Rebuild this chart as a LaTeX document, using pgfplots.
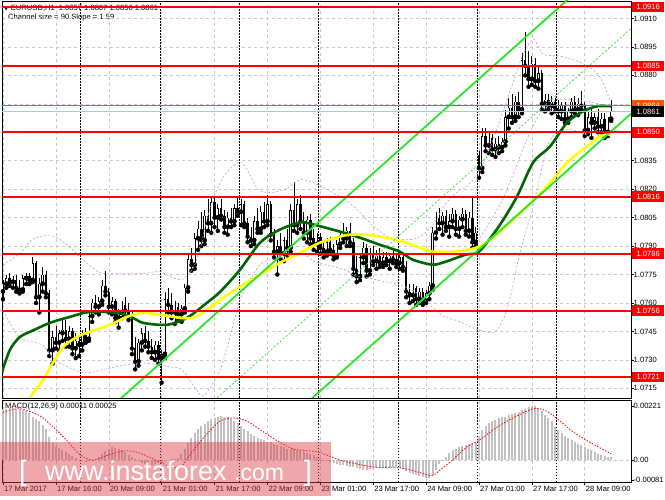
\documentclass[border=0pt]{standalone}
\usepackage{pgfplots}
\pgfplotsset{compat=1.18}
\usepackage{pgfplotstable}
\usepackage{fontspec}
\setmainfont{Liberation Sans}
\newfontfamily\dejavu{DejaVu Sans}
\newcommand{\lbl}{\fontsize{7.6}{9}\selectfont}
\definecolor{gridgray}{RGB}{200,200,200}
\definecolor{mtgreen}{RGB}{0,100,0}
\definecolor{mtyellow}{RGB}{255,255,0}
\definecolor{mtlime}{RGB}{40,230,40}
\definecolor{mtviolet}{RGB}{200,140,230}
\definecolor{mtorange}{RGB}{255,80,0}
\definecolor{macdgray}{RGB}{192,192,192}
\definecolor{wmpink}{RGB}{220,60,70}

\pgfplotstableread{
i O H L C
0 1.0766 1.0772 1.0762 1.0770
1 1.0770 1.0775 1.0768 1.0773
2 1.0773 1.0776 1.0769 1.0771
3 1.0771 1.0774 1.0768 1.0772
4 1.0772 1.0775 1.0766 1.0768
5 1.0768 1.0772 1.0765 1.0767
6 1.0767 1.0775 1.0766 1.0773
7 1.0773 1.0776 1.0770 1.0774
8 1.0774 1.0776 1.0770 1.0772
9 1.0772 1.0784 1.0771 1.0781
10 1.0781 1.0782 1.0760 1.0763
11 1.0763 1.0773 1.0755 1.0770
12 1.0770 1.0779 1.0766 1.0775
13 1.0775 1.0777 1.0763 1.0765
14 1.0765 1.0767 1.0732 1.0735
15 1.0735 1.0745 1.0728 1.0742
16 1.0742 1.0748 1.0736 1.0739
17 1.0739 1.0746 1.0735 1.0744
18 1.0744 1.0752 1.0740 1.0746
19 1.0746 1.0751 1.0737 1.0741
20 1.0741 1.0748 1.0737 1.0745
21 1.0745 1.0747 1.0733 1.0736
22 1.0736 1.0744 1.0731 1.0740
23 1.0740 1.0742 1.0732 1.0738
24 1.0738 1.0746 1.0735 1.0743
25 1.0743 1.0747 1.0739 1.0741
26 1.0741 1.0756 1.0740 1.0753
27 1.0753 1.0762 1.0750 1.0760
28 1.0760 1.0764 1.0755 1.0758
29 1.0758 1.0763 1.0754 1.0761
30 1.0761 1.0772 1.0759 1.0769
31 1.0769 1.0777 1.0764 1.0766
32 1.0766 1.0768 1.0755 1.0758
33 1.0758 1.0763 1.0754 1.0761
34 1.0761 1.0762 1.0750 1.0752
35 1.0752 1.0757 1.0747 1.0755
36 1.0755 1.0761 1.0752 1.0759
37 1.0759 1.0763 1.0753 1.0756
38 1.0756 1.0760 1.0751 1.0753
39 1.0753 1.0755 1.0733 1.0736
40 1.0736 1.0742 1.0725 1.0729
41 1.0729 1.0741 1.0727 1.0739
42 1.0739 1.0747 1.0735 1.0744
43 1.0744 1.0748 1.0737 1.0740
44 1.0740 1.0745 1.0734 1.0737
45 1.0737 1.0741 1.0731 1.0734
46 1.0734 1.0740 1.0730 1.0738
47 1.0738 1.0740 1.0728 1.0731
48 1.0731 1.0735 1.0718 1.0733
49 1.0733 1.0766 1.0731 1.0762
50 1.0762 1.0768 1.0755 1.0759
51 1.0759 1.0765 1.0752 1.0755
52 1.0755 1.0761 1.0749 1.0758
53 1.0758 1.0760 1.0751 1.0754
54 1.0754 1.0759 1.0750 1.0757
55 1.0757 1.0770 1.0755 1.0768
56 1.0768 1.0786 1.0766 1.0783
57 1.0783 1.0789 1.0777 1.0780
58 1.0780 1.0797 1.0778 1.0794
59 1.0794 1.0803 1.0788 1.0799
60 1.0799 1.0808 1.0790 1.0793
61 1.0793 1.0809 1.0791 1.0806
62 1.0806 1.0815 1.0798 1.0802
63 1.0802 1.0816 1.0797 1.0813
64 1.0813 1.0816 1.0800 1.0805
65 1.0805 1.0812 1.0798 1.0810
66 1.0810 1.0815 1.0804 1.0806
67 1.0806 1.0809 1.0797 1.0800
68 1.0800 1.0808 1.0796 1.0805
69 1.0805 1.0810 1.0800 1.0803
70 1.0803 1.0812 1.0801 1.0810
71 1.0810 1.0816 1.0806 1.0808
72 1.0808 1.0815 1.0801 1.0812
73 1.0812 1.0814 1.0800 1.0802
74 1.0802 1.0805 1.0792 1.0795
75 1.0795 1.0800 1.0790 1.0793
76 1.0793 1.0806 1.0791 1.0803
77 1.0803 1.0810 1.0797 1.0799
78 1.0799 1.0811 1.0797 1.0808
79 1.0808 1.0813 1.0800 1.0803
80 1.0803 1.0817 1.0801 1.0812
81 1.0812 1.0814 1.0793 1.0796
82 1.0796 1.0799 1.0784 1.0787
83 1.0787 1.0793 1.0775 1.0790
84 1.0790 1.0797 1.0783 1.0786
85 1.0786 1.0795 1.0782 1.0793
86 1.0793 1.0799 1.0785 1.0789
87 1.0789 1.0812 1.0787 1.0809
88 1.0809 1.0824 1.0798 1.0801
89 1.0801 1.0815 1.0797 1.0812
90 1.0812 1.0817 1.0799 1.0803
91 1.0803 1.0808 1.0794 1.0797
92 1.0797 1.0806 1.0792 1.0804
93 1.0804 1.0807 1.0791 1.0794
94 1.0794 1.0799 1.0788 1.0791
95 1.0791 1.0797 1.0787 1.0795
96 1.0795 1.0797 1.0786 1.0789
97 1.0789 1.0793 1.0784 1.0787
98 1.0787 1.0794 1.0785 1.0792
99 1.0792 1.0795 1.0786 1.0788
100 1.0788 1.0791 1.0783 1.0785
101 1.0785 1.0793 1.0784 1.0791
102 1.0791 1.0798 1.0789 1.0796
103 1.0796 1.0802 1.0792 1.0794
104 1.0794 1.0800 1.0790 1.0798
105 1.0798 1.0802 1.0790 1.0792
106 1.0792 1.0794 1.0775 1.0778
107 1.0778 1.0785 1.0771 1.0774
108 1.0774 1.0786 1.0772 1.0784
109 1.0784 1.0792 1.0781 1.0789
110 1.0789 1.0791 1.0774 1.0777
111 1.0777 1.0789 1.0775 1.0786
112 1.0786 1.0790 1.0780 1.0782
113 1.0782 1.0788 1.0778 1.0785
114 1.0785 1.0789 1.0779 1.0781
115 1.0781 1.0787 1.0779 1.0784
116 1.0784 1.0787 1.0780 1.0782
117 1.0782 1.0786 1.0778 1.0785
118 1.0785 1.0788 1.0781 1.0783
119 1.0783 1.0786 1.0779 1.0781
120 1.0781 1.0786 1.0778 1.0784
121 1.0784 1.0786 1.0777 1.0779
122 1.0779 1.0782 1.0763 1.0766
123 1.0766 1.0770 1.0760 1.0764
124 1.0764 1.0770 1.0761 1.0768
125 1.0768 1.0769 1.0759 1.0762
126 1.0762 1.0768 1.0760 1.0766
127 1.0766 1.0768 1.0759 1.0761
128 1.0761 1.0767 1.0760 1.0765
129 1.0765 1.0771 1.0762 1.0769
130 1.0769 1.0800 1.0767 1.0797
131 1.0797 1.0808 1.0794 1.0805
132 1.0805 1.0810 1.0799 1.0802
133 1.0802 1.0808 1.0796 1.0806
134 1.0806 1.0809 1.0798 1.0800
135 1.0800 1.0807 1.0795 1.0803
136 1.0803 1.0810 1.0800 1.0807
137 1.0807 1.0809 1.0796 1.0799
138 1.0799 1.0806 1.0795 1.0804
139 1.0804 1.0810 1.0800 1.0807
140 1.0807 1.0809 1.0796 1.0798
141 1.0798 1.0808 1.0795 1.0805
142 1.0805 1.0816 1.0789 1.0792
143 1.0792 1.0800 1.0790 1.0797
144 1.0838 1.0840 1.0826 1.0831
145 1.0831 1.0852 1.0829 1.0848
146 1.0848 1.0852 1.0840 1.0843
147 1.0843 1.0850 1.0839 1.0847
148 1.0847 1.0849 1.0838 1.0841
149 1.0841 1.0847 1.0837 1.0844
150 1.0844 1.0848 1.0839 1.0842
151 1.0842 1.0847 1.0840 1.0845
152 1.0845 1.0862 1.0843 1.0858
153 1.0858 1.0868 1.0852 1.0863
154 1.0863 1.0870 1.0855 1.0858
155 1.0858 1.0869 1.0856 1.0866
156 1.0866 1.0871 1.0858 1.0862
157 1.0862 1.0892 1.0860 1.0888
158 1.0888 1.0903 1.0880 1.0885
159 1.0885 1.0893 1.0874 1.0878
160 1.0878 1.0890 1.0875 1.0886
161 1.0886 1.0889 1.0874 1.0877
162 1.0877 1.0885 1.0873 1.0881
163 1.0881 1.0883 1.0862 1.0865
164 1.0865 1.0870 1.0861 1.0867
165 1.0867 1.0870 1.0862 1.0864
166 1.0864 1.0869 1.0860 1.0866
167 1.0866 1.0868 1.0861 1.0863
168 1.0863 1.0867 1.0858 1.0861
169 1.0861 1.0866 1.0857 1.0864
170 1.0864 1.0866 1.0855 1.0857
171 1.0857 1.0863 1.0855 1.0861
172 1.0861 1.0868 1.0858 1.0866
173 1.0866 1.0869 1.0860 1.0862
174 1.0862 1.0868 1.0859 1.0865
175 1.0865 1.0872 1.0862 1.0864
176 1.0864 1.0866 1.0848 1.0851
177 1.0851 1.0861 1.0849 1.0858
178 1.0858 1.0862 1.0847 1.0855
179 1.0855 1.0860 1.0852 1.0858
180 1.0858 1.0862 1.0850 1.0853
181 1.0853 1.0860 1.0850 1.0857
182 1.0857 1.0860 1.0847 1.0850
183 1.0850 1.0858 1.0848 1.0857
184 1.0857 1.0867 1.0856 1.0861
}\candles

\pgfplotstableread{
i v
0 0.00208
1 0.00210
2 0.00212
3 0.00211
4 0.00209
5 0.00207
6 0.00205
7 0.00200
8 0.00194
9 0.00178
10 0.00168
11 0.00158
12 0.00145
13 0.00125
14 0.00095
15 0.00068
16 0.00058
17 0.00048
18 0.00040
19 0.00032
20 0.00024
21 0.00015
22 0.00008
23 0.00002
24 -0.00004
25 -0.00008
26 -0.00006
27 -0.00002
28 0.00004
29 0.00012
30 0.00024
31 0.00036
32 0.00046
33 0.00052
34 0.00050
35 0.00046
36 0.00040
37 0.00032
38 0.00022
39 0.00012
40 0.00004
41 -0.00006
42 -0.00012
43 -0.00016
44 -0.00020
45 -0.00022
46 -0.00018
47 -0.00014
48 -0.00012
49 -0.00006
50 0.00000
51 0.00003
52 0.00006
53 0.00010
54 0.00025
55 0.00045
56 0.00068
57 0.00090
58 0.00110
59 0.00125
60 0.00138
61 0.00148
62 0.00158
63 0.00166
64 0.00172
65 0.00178
66 0.00180
67 0.00178
68 0.00174
69 0.00168
70 0.00160
71 0.00150
72 0.00140
73 0.00128
74 0.00118
75 0.00108
76 0.00100
77 0.00092
78 0.00086
79 0.00080
80 0.00074
81 0.00072
82 0.00066
83 0.00060
84 0.00058
85 0.00052
86 0.00046
87 0.00046
88 0.00044
89 0.00042
90 0.00038
91 0.00034
92 0.00030
93 0.00026
94 0.00020
95 0.00014
96 0.00008
97 0.00002
98 -0.00004
99 -0.00008
100 -0.00012
101 -0.00016
102 -0.00020
103 -0.00022
104 -0.00025
105 -0.00028
106 -0.00030
107 -0.00034
108 -0.00038
109 -0.00040
110 -0.00040
111 -0.00038
112 -0.00036
113 -0.00034
114 -0.00033
115 -0.00032
116 -0.00032
117 -0.00031
118 -0.00030
119 -0.00030
120 -0.00032
121 -0.00036
122 -0.00044
123 -0.00052
124 -0.00058
125 -0.00062
126 -0.00066
127 -0.00070
128 -0.00072
129 -0.00073
130 -0.00060
131 -0.00040
132 -0.00018
133 0.00002
134 0.00012
135 0.00030
136 0.00040
137 0.00046
138 0.00052
139 0.00056
140 0.00060
141 0.00064
142 0.00068
143 0.00070
144 0.00098
145 0.00122
146 0.00140
147 0.00150
148 0.00158
149 0.00164
150 0.00170
151 0.00174
152 0.00178
153 0.00186
154 0.00190
155 0.00194
156 0.00198
157 0.00204
158 0.00210
159 0.00218
160 0.00221
161 0.00219
162 0.00212
163 0.00200
164 0.00184
165 0.00170
166 0.00160
167 0.00135
168 0.00122
169 0.00110
170 0.00098
171 0.00090
172 0.00082
173 0.00074
174 0.00066
175 0.00060
176 0.00052
177 0.00046
178 0.00040
179 0.00032
180 0.00026
181 0.00020
182 0.00016
183 0.00013
184 0.00011
}\macd

\begin{document}
\begin{tikzpicture}[x=1pt,y=1pt]
\fill[white] (0,0) rectangle (665,499);
\path[use as bounding box] (0,0) rectangle (665,499);

% header
\node[anchor=west, inner sep=0pt, font=\lbl] at (4,491) {{\dejavu\fontsize{5.5}{6}\selectfont ▼}\hspace{2.5pt}EURUSD,H1\hspace{4pt}1.0857 1.0867 1.0856 1.0861};
\node[anchor=west, inner sep=0pt, font=\lbl] at (8,481) {Channel size = 90 Slope = 1.59};

\begin{axis}[
  name=main, at={(2pt,101pt)}, anchor=south west, scale only axis,
  width=629pt, height=397pt,
  xmin=-0.3, xmax=190, ymin=1.07099, ymax=1.09192,
  axis line style={black, line width=0.6pt},
  xtick={0,16,32,48,64,80,96,112,128,144,160,176}, xticklabels={},
  major x tick style={draw=none},
  xmajorgrids, ymajorgrids,
  major grid style={color=gridgray, line width=0.5pt, dash pattern=on 3pt off 3pt},
  extra x ticks={23.5,47.5,71.5,95.5,119.5,143.5,167.5},
  extra x tick labels={},
  extra x tick style={major grid style={black, line width=0.6pt, dash pattern=on 1.5pt off 1.5pt}, major tick length=0pt},
  ytick={1.0715,1.0730,1.0745,1.0760,1.0775,1.0790,1.0805,1.0820,1.0835,1.0850,1.0865,1.0880,1.0895,1.0910},
  yticklabels={1.0715,1.0730,1.0745,1.0760,1.0775,1.0790,1.0805,1.0820,1.0835,,,1.0880,1.0895,1.0910},
  ytick pos=right, yticklabel pos=right, tick align=outside,
  major tick length=3pt, scaled y ticks=false,
  major y tick style={black, line width=0.5pt},
  yticklabel style={anchor=west, xshift=-1.5pt, font=\lbl, inner sep=1pt},
  clip mode=individual,
]
% candles: wicks
\addplot[only marks, mark=none, error bars/.cd, y dir=plus, y explicit, error mark=none,
  error bar style={black, line width=0.7pt, solid}]
  table[x=i, y=L, y error expr=\thisrow{H}-\thisrow{L}] {\candles};
% bearish bodies
\addplot[only marks, mark=none, restrict expr to domain={\thisrow{O}-\thisrow{C}}{0:1},
  error bars/.cd, y dir=plus, y explicit, error mark=none,
  error bar style={black, line width=2.4pt, solid}]
  table[x=i, y=C, y error expr=\thisrow{O}-\thisrow{C}] {\candles};
% bullish bodies (outline)
\addplot[only marks, mark=none, restrict expr to domain={\thisrow{C}-\thisrow{O}}{0.00001:1},
  error bars/.cd, y dir=plus, y explicit, error mark=none,
  error bar style={black, line width=2.4pt, solid}]
  table[x=i, y=O, y error expr=\thisrow{C}-\thisrow{O}] {\candles};
% bullish bodies (fill)
\addplot[only marks, mark=none, restrict expr to domain={\thisrow{C}-\thisrow{O}}{0.00006:1},
  error bars/.cd, y dir=plus, y explicit, error mark=none,
  error bar style={white, line width=1.0pt, solid}]
  table[x=i, y expr=\thisrow{O}+0.000025, y error expr=\thisrow{C}-\thisrow{O}-0.00005] {\candles};

% Bollinger-like bands
\addplot[mtviolet, line width=0.6pt, dash pattern=on 2pt off 2pt, smooth] coordinates {
(0,1.07800) (2.7,1.07830) (5.7,1.07870) (8.8,1.07934) (12.7,1.07955) (16.3,1.07944) (20.3,1.07892) (24.8,1.07818) (29.3,1.07760) (33.9,1.07755) (38.4,1.07754) (43.0,1.07757) (47.5,1.07765) (51.1,1.07735) (54.2,1.07725) (57.2,1.07775) (59.6,1.07881) (61.7,1.08040) (64.1,1.08172) (67.2,1.08277) (70.2,1.08330) (72.3,1.08341) (74.7,1.08277) (77.2,1.08198) (80.8,1.08182) (85.3,1.08198) (89.9,1.08250) (94.4,1.08230) (98.9,1.08190) (103.5,1.08145) (106.5,1.08103) (109.5,1.08050) (112.6,1.07997) (117.1,1.07944) (121.6,1.07934) (125.6,1.07944) (130.1,1.08012) (133.7,1.08119) (138.3,1.08198) (140.4,1.08214) (144.3,1.08304) (148.3,1.08462) (153.4,1.08716) (157.0,1.08896) (160.4,1.08991) (163.4,1.08912) (168.5,1.08901) (174.6,1.08869) (179.1,1.08822) (181.5,1.08764) (183.7,1.08663)};
\addplot[mtviolet, line width=0.6pt, dash pattern=on 2pt off 2pt, smooth] coordinates {
(0,1.07560) (5,1.07420) (11.8,1.07379) (15.7,1.07300) (19.7,1.07263) (24.8,1.07231) (32.4,1.07257) (41.5,1.07284) (50.5,1.07263) (54.2,1.07247) (58.1,1.07152) (60.5,1.07109) (63.2,1.07168) (65.7,1.07247) (68.7,1.07421) (71.7,1.07617) (74.7,1.07722) (77.8,1.07802) (80.8,1.07828) (85.3,1.07844) (89.9,1.07865) (94.4,1.07818) (98.9,1.07796) (103.5,1.07775) (106.5,1.07744) (110.4,1.07733) (115.6,1.07712) (120.1,1.07696) (124.7,1.07659) (129.2,1.07590) (133.1,1.07532) (138.3,1.07501) (143.7,1.07458) (148.9,1.07448) (151.9,1.07538) (154.0,1.07670) (156.4,1.07865) (159.5,1.08056) (162.5,1.08267) (164.6,1.08425) (167.6,1.08499) (171.6,1.08515) (178.5,1.08478) (182.8,1.08499)};
\addplot[mtviolet, line width=0.6pt, dash pattern=on 2pt off 2pt, smooth] coordinates {
(144.3,1.07944) (150.4,1.08119) (154.3,1.08277) (158.5,1.08462) (162.5,1.08600) (166.4,1.08658) (168.5,1.08674) (176.7,1.08663) (182.7,1.08637)};

% moving averages
\addplot[mtgreen, line width=2.6pt, smooth] coordinates {
(-0.3,1.07236) (2.1,1.07353) (5.1,1.07421) (8.2,1.07448) (14.2,1.07495) (20.3,1.07527) (26.3,1.07553) (34.5,1.07548) (39.3,1.07522) (42.4,1.07495) (49.6,1.07485) (55.7,1.07522) (61.7,1.07601) (65.7,1.07659) (71.7,1.07775) (77.8,1.07918) (83.8,1.07987) (89.9,1.08024) (92.9,1.08018) (102,1.07976) (108,1.07944) (114,1.07907) (120,1.07871) (124,1.07828) (130,1.07802) (134,1.07818) (140,1.07855) (144,1.07871) (150,1.08003) (155.5,1.08161) (160.4,1.08341) (165.5,1.08425) (170.7,1.08552) (175.5,1.08610) (179.7,1.08637) (184,1.08637)};
\addplot[mtyellow, line width=2.6pt, smooth] coordinates {
(6.5,1.07000) (8.2,1.07099) (12.1,1.07194) (15.1,1.07284) (18.2,1.07368) (22.4,1.07421) (26.3,1.07448) (32.4,1.07485) (37.5,1.07527) (42.4,1.07548) (47.5,1.07538) (53.6,1.07522) (57.5,1.07522) (61.7,1.07564) (65.7,1.07617) (71.7,1.07685) (77.8,1.07749) (83.8,1.07812) (89.9,1.07865) (95.9,1.07918) (102,1.07950) (105,1.07960) (110,1.07960) (116,1.07944) (122,1.07918) (126,1.07892) (130,1.07871) (137,1.07871) (144,1.07897) (150,1.07971) (158.5,1.08108) (164.6,1.08214) (170.7,1.08341) (176.7,1.08425) (180.6,1.08478) (184,1.08489)};

% regression channel
\addplot[mtlime, line width=1.8pt] coordinates {(34,1.07071) (172,1.09217)};
\addplot[mtlime, line width=1.8pt] coordinates {(92,1.07074) (190,1.08598)};
\addplot[mtlime, line width=0.7pt, dash pattern=on 2pt off 2pt] coordinates {(63,1.07072) (190,1.09047)};

% horizontal levels
\addplot[red, line width=2pt] coordinates {(-0.3,1.0916) (190,1.0916)};
\addplot[red, line width=2pt] coordinates {(-0.3,1.0885) (190,1.0885)};
\addplot[red, line width=2pt] coordinates {(-0.3,1.0850) (190,1.0850)};
\addplot[red, line width=2pt] coordinates {(-0.3,1.0816) (190,1.0816)};
\addplot[red, line width=2pt] coordinates {(-0.3,1.0786) (190,1.0786)};
\addplot[red, line width=2pt] coordinates {(-0.3,1.0756) (190,1.0756)};
\addplot[red, line width=2pt] coordinates {(-0.3,1.0721) (190,1.0721)};
\addplot[mtorange, line width=0.8pt] coordinates {(-0.3,1.0864) (190,1.0864)};
\addplot[macdgray, line width=0.6pt] coordinates {(-0.3,1.0861) (190,1.0861)};

\coordinate (q0916) at (axis cs:190,1.0916);
\coordinate (q0885) at (axis cs:190,1.0885);
\coordinate (q0864) at (axis cs:190,1.0864);
\coordinate (q0861) at (axis cs:190,1.0861);
\coordinate (q0850) at (axis cs:190,1.0850);
\coordinate (q0816) at (axis cs:190,1.0816);
\coordinate (q0786) at (axis cs:190,1.0786);
\coordinate (q0756) at (axis cs:190,1.0756);
\coordinate (q0721) at (axis cs:190,1.0721);
\end{axis}

\begin{axis}[
  name=macdax, at={(2pt,17pt)}, anchor=south west, scale only axis,
  width=629pt, height=82pt,
  xmin=-0.3, xmax=190, ymin=-0.0009, ymax=0.002456,
  axis line style={black, line width=0.6pt},
  xtick={0,16,32,48,64,80,96,112,128,144,160,176},
  xticklabels={17 Mar 2017,17 Mar 16:00,20 Mar 09:00,21 Mar 01:00,21 Mar 17:00,22 Mar 09:00,23 Mar 01:00,23 Mar 17:00,24 Mar 09:00,27 Mar 01:00,27 Mar 17:00,28 Mar 09:00},
  xtick pos=left, xticklabel pos=left, tick align=outside, major tick length=3pt,
  major x tick style={black, line width=0.5pt},
  xticklabel style={anchor=north west, inner sep=1pt, xshift=0pt, yshift=0pt, font=\lbl},
  xmajorgrids, ymajorgrids,
  major grid style={color=gridgray, line width=0.5pt, dash pattern=on 3pt off 3pt},
  extra x ticks={23.5,47.5,71.5,95.5,119.5,143.5,167.5},
  extra x tick labels={},
  extra x tick style={major grid style={black, line width=0.6pt, dash pattern=on 1.5pt off 1.5pt}, major tick length=0pt},
  ytick={0}, yticklabels={0.00},
  extra y ticks={-0.00081,0.00221}, extra y tick labels={-0.00081,0.00221},
  extra y tick style={grid=none},
  ytick pos=right, yticklabel pos=right, scaled y ticks=false,
  major y tick style={black, line width=0.5pt},
  yticklabel style={anchor=west, xshift=-1.5pt, font=\lbl, inner sep=1pt},
  clip mode=individual,
]
\addplot[ycomb, draw=macdgray, line width=2.0pt, mark=none] table[x=i, y=v] {\macd};
\addplot[red, line width=0.8pt, dash pattern=on 1.5pt off 1.5pt, smooth] coordinates {
(0,0.00195) (5,0.00210) (11,0.00182) (14,0.00150) (19,0.00085) (23,0.00025) (27,0.00000) (33,0.00025) (37,0.00038) (41,0.00030) (47.5,-0.00008) (51,-0.00030) (54,-0.00025) (57.6,0.00040) (61.6,0.00105) (65.7,0.00160) (69.7,0.00172) (73.7,0.00160) (78.8,0.00115) (83.8,0.00072) (87.9,0.00045) (92,0.00038) (96,0.00030) (102,0.00000) (107,-0.00016) (113,-0.00030) (119,-0.00030) (124,-0.00043) (129.7,-0.00064) (132,-0.00043) (136,0.00000) (140,0.00050) (144,0.00080) (149,0.00130) (154,0.00170) (160.5,0.00210) (164.5,0.00200) (168.5,0.00160) (172.5,0.00115) (176.6,0.00080) (180.6,0.00050) (184,0.00025)};
\end{axis}

\node[anchor=west, inner sep=0pt, font=\lbl] at (5,92) {MACD(12,26,9) 0.00011 0.00025};

% price labels on the right scale
\begin{scope}[every node/.style={anchor=west, font=\lbl, inner xsep=1.5pt, inner ysep=0pt, minimum height=10.5pt, minimum width=32pt}]
\node[fill=red, text=white] at ([xshift=1pt]q0916) {1.0916};
\node[fill=red, text=white] at ([xshift=1pt]q0885) {1.0885};
\node[fill=mtorange, text=white] at ([xshift=1pt]q0864) {1.0864};
\node[fill=black, text=white] at ([xshift=1pt]q0861) {1.0861};
\node[fill=red, text=white] at ([xshift=1pt]q0850) {1.0850};
\node[fill=red, text=white] at ([xshift=1pt]q0816) {1.0816};
\node[fill=red, text=white] at ([xshift=1pt]q0786) {1.0786};
\node[fill=red, text=white] at ([xshift=1pt]q0756) {1.0756};
\node[fill=red, text=white] at ([xshift=1pt]q0721) {1.0721};
\end{scope}

% watermark
\fill[wmpink, opacity=0.45] (0,3) rectangle (331,57);
\node[anchor=base west, inner sep=0pt, text=white, font=\fontsize{28}{28}\selectfont] at (19,19) {[};
\node[anchor=base west, inner sep=0pt, text=white, font=\fontsize{27}{27}\selectfont] at (45,19) {www.instaforex};
\node[anchor=base west, inner sep=0pt, text=white, font=\fontsize{23}{23}\selectfont] at (234,19) {.com};
\node[anchor=base west, inner sep=0pt, text=white, font=\fontsize{28}{28}\selectfont] at (304,19) {]};
\end{tikzpicture}
\end{document}
